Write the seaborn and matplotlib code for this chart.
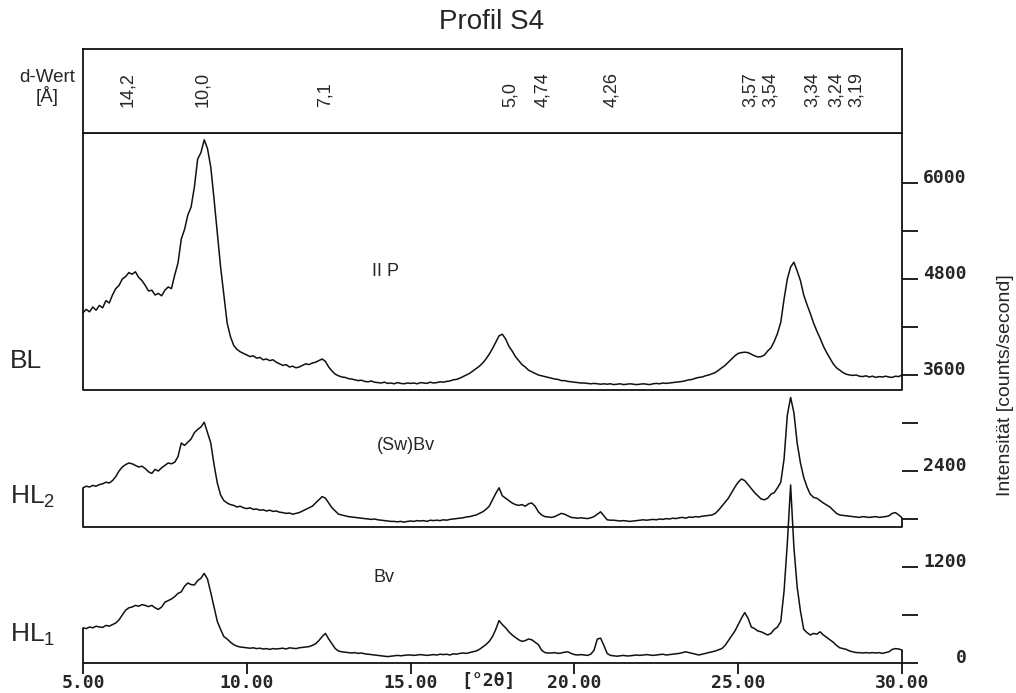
import numpy as np
import matplotlib
matplotlib.use("Agg")
import matplotlib.pyplot as plt
import seaborn as sns

# ---------------------------------------------------------------------------
# X-ray diffractograms, profile S4 (counts per second, stacked with offsets)
# ---------------------------------------------------------------------------
two_theta = np.round(np.arange(5.0, 30.0 + 0.05, 0.1), 1)

# BL horizon (II P)
bl_counts = [
    4380, 4420, 4390, 4450, 4410, 4470, 4440, 4530, 4500, 4600,
    4680, 4720, 4800, 4830, 4880, 4860, 4890, 4820, 4780, 4720,
    4650, 4660, 4600, 4620, 4590, 4660, 4700, 4680, 4850, 5000,
    5300, 5420, 5600, 5700, 5950, 6300, 6380, 6540, 6430, 6200,
    5800, 5380, 4950, 4600, 4250, 4080, 3970, 3920, 3890, 3870,
    3850, 3830, 3840, 3810, 3820, 3790, 3800, 3780, 3790, 3760,
    3740, 3720, 3730, 3700, 3710, 3690, 3700, 3720, 3740, 3730,
    3750, 3760, 3780, 3800, 3770, 3700, 3650, 3610, 3590, 3575,
    3570, 3555, 3550, 3540, 3530, 3535, 3520, 3515, 3525, 3510,
    3505, 3500, 3510, 3495, 3500, 3490, 3505, 3495, 3490, 3500,
    3495, 3500, 3490, 3505, 3500, 3495, 3510, 3500, 3505, 3515,
    3510, 3520, 3525, 3540, 3545, 3560, 3580, 3600, 3620, 3650,
    3680, 3710, 3750, 3800, 3860, 3930, 4010, 4090, 4110, 4050,
    3960, 3900, 3830, 3780, 3730, 3700, 3660, 3640, 3620, 3600,
    3590, 3580, 3570, 3560, 3550, 3545, 3530, 3530, 3520, 3515,
    3510, 3505, 3500, 3500, 3495, 3490, 3495, 3490, 3485, 3490,
    3485, 3490, 3480, 3485, 3490, 3480, 3485, 3490, 3485, 3480,
    3485, 3490, 3485, 3480, 3490, 3495, 3490, 3500, 3495, 3500,
    3505, 3510, 3515, 3520, 3530, 3540, 3545, 3560, 3570, 3575,
    3590, 3600, 3615, 3630, 3660, 3690, 3720, 3760, 3800, 3840,
    3870, 3880, 3885, 3880, 3860, 3840, 3825, 3830, 3850, 3900,
    3940, 4020, 4120, 4260, 4550, 4800, 4950, 5010, 4900, 4780,
    4600, 4480, 4370, 4250, 4150, 4060, 3960, 3880, 3810, 3740,
    3690, 3660, 3630, 3610, 3600, 3595, 3600, 3585, 3580, 3590,
    3575, 3585, 3570, 3580, 3575, 3585, 3575, 3570, 3585, 3580,
    3600,
]

# HL2 horizon ((Sw)Bv)
hl2_counts = [
    2190, 2210, 2200, 2220, 2210, 2230, 2240, 2260, 2250, 2280,
    2330, 2400, 2450, 2480, 2500, 2490, 2470, 2450, 2460, 2430,
    2390, 2370, 2420, 2400, 2440, 2470, 2500, 2490, 2510, 2580,
    2750, 2720, 2760, 2800, 2880, 2920, 2950, 3010, 2880, 2750,
    2480, 2250, 2100, 2030, 2000, 1980, 1970, 1950, 1960, 1940,
    1930, 1940, 1920, 1925, 1910, 1915, 1900, 1910, 1895, 1900,
    1885, 1880, 1870, 1875, 1860, 1870, 1880, 1900, 1920, 1940,
    1960, 2000, 2040, 2080, 2060, 2000, 1940, 1900, 1860, 1850,
    1840, 1830, 1825, 1820, 1815, 1810, 1805, 1800, 1795, 1800,
    1790, 1785, 1780, 1775, 1770, 1770, 1765, 1770, 1760, 1770,
    1775, 1770, 1780, 1775, 1780, 1770, 1785, 1780, 1785, 1780,
    1790, 1785, 1795, 1800, 1805, 1810, 1815, 1825, 1830, 1840,
    1850, 1870, 1890, 1920, 1960, 2040, 2120, 2190, 2090, 2060,
    2030, 2000, 1980, 1970, 1980, 1960, 1990, 2000, 1960, 1890,
    1850, 1830, 1825, 1820, 1830, 1850, 1870, 1860, 1840, 1820,
    1815, 1810, 1815, 1810, 1805, 1815, 1830, 1860, 1890, 1840,
    1790, 1785, 1785, 1780, 1775, 1780, 1775, 1770, 1775, 1780,
    1785, 1790, 1785, 1790, 1795, 1790, 1800, 1795, 1805, 1800,
    1810, 1805, 1815, 1820, 1810, 1825, 1820, 1830, 1825, 1835,
    1840, 1845, 1850, 1870, 1910, 1960, 2010, 2060, 2130, 2200,
    2260, 2300, 2280, 2230, 2180, 2130, 2090, 2050, 2040, 2060,
    2110, 2130, 2190, 2260, 2550, 3100, 3320, 3130, 2750, 2500,
    2320, 2200, 2110, 2070, 2060, 2030, 2000, 1975, 1950, 1910,
    1870, 1850, 1845, 1840, 1835, 1830, 1825, 1820, 1830, 1825,
    1820, 1825, 1830, 1820, 1825, 1830, 1840, 1870, 1880, 1850,
    1815,
]

# HL1 horizon (Bv)
hl1_counts = [
    440, 430, 450, 440, 460, 450, 445, 470, 460, 480,
    500, 540, 600, 660, 690, 700, 720, 710, 730, 720,
    705, 720, 690, 670, 700, 760, 780, 800, 830, 870,
    890, 960, 1000, 980, 975, 1030, 1060, 1120, 1050, 880,
    700, 520, 420, 330, 300, 260, 230, 210, 200, 195,
    190, 185, 190, 180, 185, 175, 180, 170, 180, 175,
    180, 185, 175, 190, 185, 180, 190, 195, 200, 205,
    220, 240, 280, 330, 370, 300, 240, 180, 150, 140,
    135, 130, 125, 130, 120, 125, 115, 110, 105, 100,
    95, 90, 85, 80, 85, 90, 95, 90, 95, 100,
    100, 95, 100, 105, 100, 95, 100, 105, 100, 110,
    105, 110, 100, 115, 110, 120, 125, 120, 130, 140,
    150, 170, 200, 230, 270, 330, 420, 530, 480, 440,
    390, 350, 320, 290, 270, 280, 300, 290, 260, 230,
    160, 130, 125, 125, 130, 120, 125, 135, 140, 120,
    105, 100, 105, 100, 95, 110, 160, 300, 310, 220,
    120, 95, 90, 85, 90, 95, 88, 90, 95, 100,
    95, 100, 105, 100, 95, 100, 105, 110, 100, 105,
    110, 115, 120, 130, 140, 130, 120, 110, 100, 110,
    120, 130, 140, 150, 165, 180, 220, 280, 340, 400,
    480, 560, 630, 560, 450, 430, 400, 390, 370, 350,
    370, 420, 450, 520, 900, 1500, 2225, 1450, 950, 650,
    420, 380, 350, 370, 360, 390, 350, 320, 290, 260,
    220, 190, 180, 170, 150, 140, 130, 130, 125, 130,
    125, 130, 125, 130, 120, 130, 140, 170, 180, 175,
    163,
]

# d-spacings [Å] annotated above the scans and where their labels sit [°2θ]
d_labels = ["14,2", "10,0", "7,1", "5,0", "4,74", "4,26",
            "3,57", "3,54", "3,34", "3,24", "3,19"]
d_label_2theta = [6.37, 8.66, 12.39, 18.03, 19.04, 21.15,
                  25.36, 25.97, 27.25, 28.01, 28.62]

x_ticks = [5, 10, 15, 20, 25, 30]
x_tick_labels = ["5.00", "10.00", "15.00", "20.00", "25.00", "30.00"]
y_major = [0, 1200, 2400, 3600, 4800, 6000]
y_minor = [600, 1800, 3000, 4200, 5400]

# lower edges of the frames around each scan
bl_floor = 3413
hl2_floor = 1700

# ---------------------------------------------------------------------------
sns.set_style("white")
plt.rcParams["font.family"] = ["Liberation Sans", "DejaVu Sans"]
plt.rcParams["mathtext.default"] = "regular"

W, H = 1016, 693
fig = plt.figure(figsize=(W / 100, H / 100), dpi=100)


def fx(px):
    return px / W


def fy(py):
    return 1 - py / H


ax = fig.add_axes([fx(83), fy(663), fx(902) - fx(83), fy(133) - fy(663)])
ax.set_xlim(5, 30)
ax.set_ylim(0, 6625)
for s in ax.spines.values():
    s.set_visible(False)

line_kw = dict(color="#111111", linewidth=1.1, estimator=None, sort=False,
               legend=False)
sns.lineplot(x=two_theta, y=bl_counts, ax=ax, **line_kw)
sns.lineplot(x=two_theta, y=hl2_counts, ax=ax, **line_kw)
sns.lineplot(x=two_theta, y=hl1_counts, ax=ax, **line_kw)
for ln in ax.lines:
    ln.set_clip_on(False)

frame_kw = dict(color="#111111", linewidth=1.3, clip_on=False,
                solid_capstyle="butt")
top = ax.get_ylim()[1]
# BL box
ax.plot([5, 5, 30, 30, 5], [top, bl_floor, bl_floor, top, top], **frame_kw)
# HL2 frame
ax.plot([5, 5, 30, 30], [hl2_counts[0], hl2_floor, hl2_floor, hl2_counts[-1]],
        **frame_kw)
# HL1 frame and 2θ axis line
ax.plot([5, 5], [hl1_counts[0], 0], **frame_kw)
ax.plot([5, 30], [0, 0], **frame_kw)
ax.plot([30, 30], [hl1_counts[-1], 0], **frame_kw)

# 2θ axis
ax.set_xticks(x_ticks)
ax.set_xticklabels(x_tick_labels)
ax.tick_params(axis="x", direction="out", length=8, width=1.3,
               color="#111111", pad=0, labelsize=13, bottom=True)
for t in ax.get_xticklabels():
    t.set_fontfamily("DejaVu Sans Mono")
    t.set_fontweight("bold")

# intensity axis on the right
ax.yaxis.set_ticks_position("right")
ax.set_yticks(y_major)
ax.set_yticklabels([str(v) for v in y_major])
ax.set_yticks(y_minor, minor=True)
ax.tick_params(axis="y", which="both", direction="out", length=11.5,
               width=1.3, color="#111111", left=False, right=True,
               labelleft=False, labelright=True)
ax.tick_params(axis="y", which="major", pad=35, labelsize=13)
for tick in ax.yaxis.get_major_ticks():
    lab = tick.label2
    lab.set_horizontalalignment("right")
    lab.set_verticalalignment("baseline")
    lab.set_fontfamily("DejaVu Sans Mono")
    lab.set_fontweight("bold")
ax.grid(False)

# d-value strip
ax_top = fig.add_axes([fx(83), fy(133), fx(902) - fx(83), fy(49) - fy(133)])
ax_top.set_xlim(5, 30)
ax_top.set_ylim(0, 1)
ax_top.set_xticks([])
ax_top.set_yticks([])
for s in ax_top.spines.values():
    s.set_visible(True)
    s.set_linewidth(1.3)
    s.set_color("#111111")
for lab, pos in zip(d_labels, d_label_2theta):
    ax_top.text(pos, 0.31, lab, rotation=90, ha="center", va="bottom",
                fontsize=13)

# texts around the plot
fig.text(fx(47), fy(88), "d-Wert\n[Å]", ha="center", va="center",
         fontsize=13.5, linespacing=1.0)
fig.text(fx(492), fy(22), "Profil S4", ha="center", va="center", fontsize=20)
fig.text(fx(1005), fy(385), "Intensität [counts/second]", rotation=90,
         ha="center", va="center", fontsize=14)
fig.text(fx(10), fy(361), "BL", ha="left", va="center", fontsize=19)
fig.text(fx(10), fy(497), "HL$_2$", ha="left", va="center", fontsize=19)
fig.text(fx(10), fy(635), "HL$_1$", ha="left", va="center", fontsize=19)
fig.text(fx(385), fy(272), "II P", ha="center", va="center", fontsize=13)
fig.text(fx(406), fy(445), "(Sw)Bv", ha="center", va="center", fontsize=13)
fig.text(fx(384), fy(578), "Bv", ha="center", va="center", fontsize=13)
fig.text(fx(488), fy(681), "[°2θ]", ha="center", va="center", fontsize=13,
         family="DejaVu Sans Mono", weight="bold")

fig.savefig("out.png", dpi=100, facecolor="white")
